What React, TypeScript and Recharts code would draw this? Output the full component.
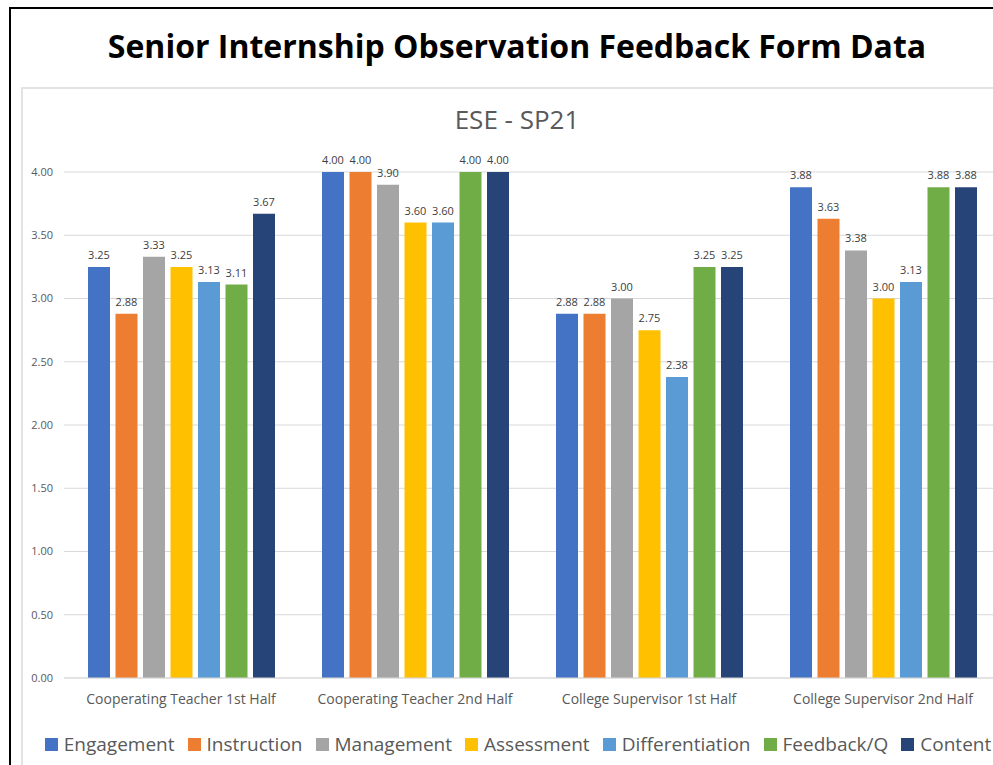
import React from "react";
import { BarChart, Bar, XAxis, YAxis, CartesianGrid, LabelList } from "recharts";

const categories = [
  "Cooperating Teacher 1st Half",
  "Cooperating Teacher 2nd Half",
  "College Supervisor 1st Half",
  "College Supervisor 2nd Half",
];

const engagement = [3.25, 4.0, 2.88, 3.88];
const instruction = [2.88, 4.0, 2.88, 3.63];
const management = [3.33, 3.9, 3.0, 3.38];
const assessment = [3.25, 3.6, 2.75, 3.0];
const differentiation = [3.13, 3.6, 2.38, 3.13];
const feedbackQ = [3.11, 4.0, 3.25, 3.88];
const content = [3.67, 4.0, 3.25, 3.88];

const yTicks = [0, 0.5, 1, 1.5, 2, 2.5, 3, 3.5, 4];

const series = [
  { key: "Engagement", values: engagement, color: "#4472C4" },
  { key: "Instruction", values: instruction, color: "#ED7D31" },
  { key: "Management", values: management, color: "#A5A5A5" },
  { key: "Assessment", values: assessment, color: "#FFC000" },
  { key: "Differentiation", values: differentiation, color: "#5B9BD5" },
  { key: "Feedback/Q", values: feedbackQ, color: "#70AD47" },
  { key: "Content", values: content, color: "#264478" },
];

const rows = categories.map((name, i) => {
  const row: Record<string, string | number> = { name };
  series.forEach((s) => {
    row[s.key] = s.values[i];
  });
  return row;
});

const font = "'Open Sans', sans-serif";

export default function App() {
  return (
    <div
      style={{
        position: "fixed",
        left: 0,
        top: 0,
        width: 993,
        height: 765,
        overflow: "hidden",
        background: "#fff",
        fontFamily: font,
      }}
    >
      {/* outer frame */}
      <div
        style={{
          position: "absolute",
          left: 9,
          top: 7,
          width: 1100,
          height: 900,
          borderTop: "2px solid #000",
          borderLeft: "2px solid #000",
        }}
      />
      <div
        style={{
          position: "absolute",
          left: 0,
          top: 27,
          width: 1034,
          textAlign: "center",
          fontSize: 32,
          fontWeight: 700,
          color: "#000",
          lineHeight: "38px",
        }}
      >
        Senior Internship Observation Feedback Form Data
      </div>
      {/* chart area frame */}
      <div
        style={{
          position: "absolute",
          left: 21,
          top: 87,
          width: 1100,
          height: 900,
          borderTop: "2px solid #e3e3e3",
          borderLeft: "2px solid #e3e3e3",
        }}
      />
      <div
        style={{
          position: "absolute",
          left: 0,
          top: 101,
          width: 1034,
          textAlign: "center",
          fontSize: 26,
          color: "#595959",
          lineHeight: "36px",
        }}
      >
        ESE - SP21
      </div>
      <div style={{ position: "absolute", left: 0, top: 0 }}>
        <BarChart
          width={1000}
          height={765}
          data={rows}
          margin={{ top: 172, right: 0, left: 0, bottom: 57 }}
          barGap={5.5}
          barSize={22}
        >
          <CartesianGrid vertical={false} stroke="#d9d9d9" />
          <XAxis
            dataKey="name"
            axisLine={{ stroke: "#d9d9d9" }}
            tickLine={false}
            tickMargin={10}
            height={30}
            interval={0}
            tick={{ fontSize: 14, fill: "#595959", fontFamily: font }}
          />
          <YAxis
            width={64}
            domain={[0, 4]}
            ticks={yTicks}
            axisLine={false}
            tickLine={false}
            tickMargin={5}
            tickFormatter={(v: number) => v.toFixed(2)}
            tick={{ fontSize: 11, fill: "#595959", fontFamily: font }}
          />
          {series.map((s) => (
            <Bar key={s.key} dataKey={s.key} fill={s.color} isAnimationActive={false}>
              <LabelList
                dataKey={s.key}
                position="top"
                offset={8}
                formatter={(v: number) => Number(v).toFixed(2)}
                style={{ fontSize: 11, fill: "#404040", fontFamily: font }}
              />
            </Bar>
          ))}
        </BarChart>
      </div>
      {/* legend */}
      <div
        style={{
          position: "absolute",
          left: 0,
          top: 730,
          width: 1036,
          display: "flex",
          justifyContent: "center",
          gap: 13,
          fontSize: 19,
          color: "#595959",
          lineHeight: "28px",
        }}
      >
        {series.map((s) => (
          <div key={s.key} style={{ display: "flex", alignItems: "center", gap: 6 }}>
            <span style={{ width: 13, height: 13, background: s.color, display: "inline-block" }} />
            <span>{s.key}</span>
          </div>
        ))}
      </div>
    </div>
  );
}
